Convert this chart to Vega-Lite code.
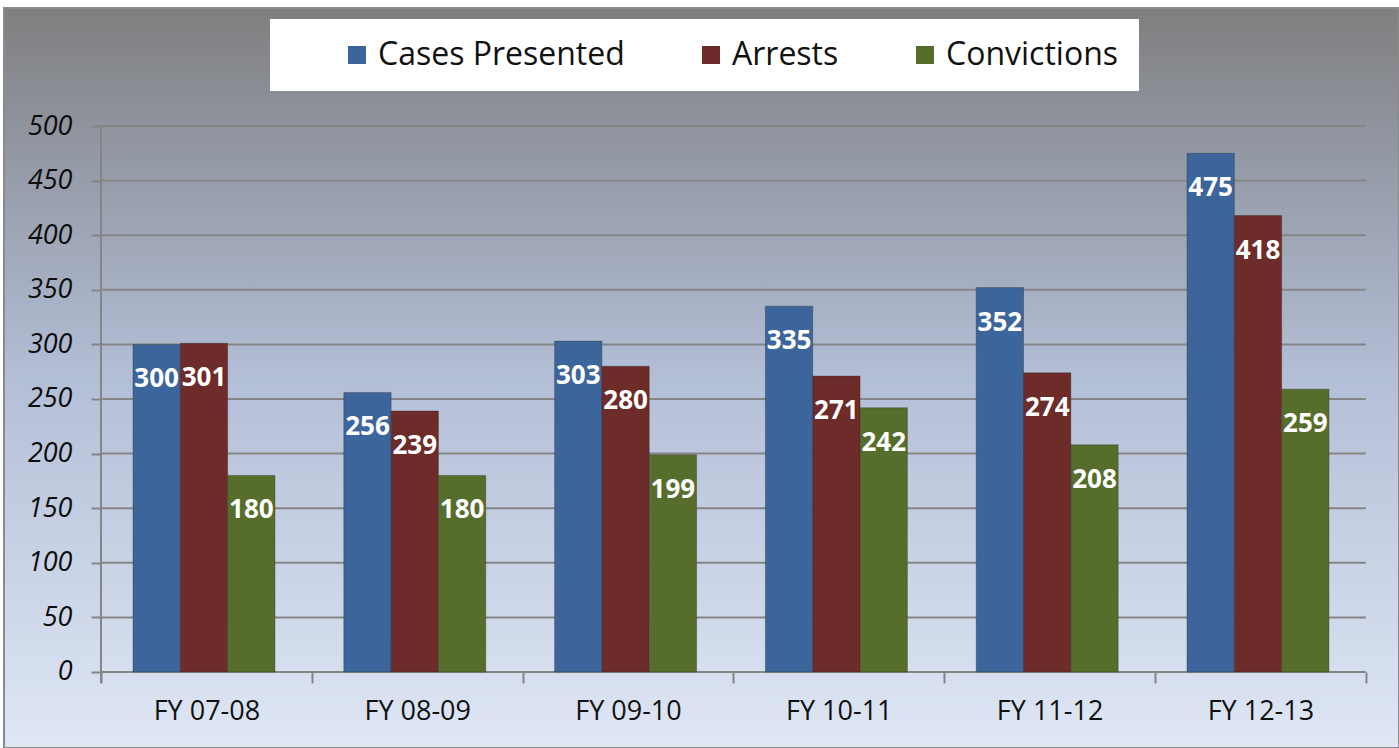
{
  "$schema": "https://vega.github.io/schema/vega-lite/v6.json",
  "width": 1395,
  "height": 740,
  "autosize": {"type": "none"},
  "padding": {"left": 4, "top": 8, "right": 0, "bottom": 0},
  "background": "#ffffff",
  "config": {
    "view": {
      "stroke": "#8a8a8a",
      "strokeWidth": 2,
      "fill": {
        "gradient": "linear",
        "x1": 0, "y1": 0, "x2": 0, "y2": 1,
        "stops": [
          {"offset": 0, "color": "#7f7f7f"},
          {"offset": 0.18, "color": "#9196a1"},
          {"offset": 0.5, "color": "#b3bfd7"},
          {"offset": 1, "color": "#dfe7f5"}
        ]
      }
    }
  },
  "datasets": {
    "bars": [
      {"year": "FY 07-08", "series": "Cases Presented", "value": 300},
      {"year": "FY 07-08", "series": "Arrests", "value": 301},
      {"year": "FY 07-08", "series": "Convictions", "value": 180},
      {"year": "FY 08-09", "series": "Cases Presented", "value": 256},
      {"year": "FY 08-09", "series": "Arrests", "value": 239},
      {"year": "FY 08-09", "series": "Convictions", "value": 180},
      {"year": "FY 09-10", "series": "Cases Presented", "value": 303},
      {"year": "FY 09-10", "series": "Arrests", "value": 280},
      {"year": "FY 09-10", "series": "Convictions", "value": 199},
      {"year": "FY 10-11", "series": "Cases Presented", "value": 335},
      {"year": "FY 10-11", "series": "Arrests", "value": 271},
      {"year": "FY 10-11", "series": "Convictions", "value": 242},
      {"year": "FY 11-12", "series": "Cases Presented", "value": 352},
      {"year": "FY 11-12", "series": "Arrests", "value": 274},
      {"year": "FY 11-12", "series": "Convictions", "value": 208},
      {"year": "FY 12-13", "series": "Cases Presented", "value": 475},
      {"year": "FY 12-13", "series": "Arrests", "value": 418},
      {"year": "FY 12-13", "series": "Convictions", "value": 259}
    ],
    "grid": [
      {"v": 0}, {"v": 50}, {"v": 100}, {"v": 150}, {"v": 200}, {"v": 250},
      {"v": 300}, {"v": 350}, {"v": 400}, {"v": 450}, {"v": 500}
    ]
  },
  "layer": [
    {
      "data": {"name": "grid"},
      "mark": {"type": "rule", "strokeWidth": 2, "color": "#858585"},
      "encoding": {
        "x": {
          "datum": "FY 07-08",
          "bandPosition": 0,
          "type": "nominal",
          "scale": {
            "domain": ["FY 07-08", "FY 08-09", "FY 09-10", "FY 10-11", "FY 11-12", "FY 12-13"],
            "paddingInner": 0,
            "paddingOuter": 0.3088,
            "align": 0.745
          },
          "axis": {
            "title": null,
            "orient": "bottom",
            "offset": -76,
            "domain": false,
            "grid": false,
            "tickBand": "extent",
            "tickSize": 11,
            "tickWidth": 2,
            "tickColor": "#858585",
            "labelFont": "Open Sans",
            "labelFontSize": 27,
            "labelColor": "#111111",
            "labelPadding": 15,
            "labelAngle": 0
          }
        },
        "x2": {"datum": "FY 12-13", "bandPosition": 1},
        "y": {
          "field": "v",
          "type": "quantitative",
          "scale": {"domain": [-69.6, 608.06], "nice": false, "zero": false},
          "axis": {
            "title": null,
            "orient": "left",
            "offset": -97,
            "domain": false,
            "grid": false,
            "values": [0, 50, 100, 150, 200, 250, 300, 350, 400, 450, 500],
            "tickSize": 10,
            "tickWidth": 2,
            "tickColor": "#858585",
            "labelFont": "Open Sans",
            "labelFontStyle": "italic",
            "labelFontSize": 27,
            "labelColor": "#0d0d0d",
            "labelPadding": 19
          }
        }
      }
    },
    {
      "data": {"values": [{}]},
      "mark": {"type": "rule", "color": "#858585", "strokeWidth": 2},
      "encoding": {
        "x": {"datum": "FY 07-08", "bandPosition": 0, "type": "nominal"},
        "y": {"datum": 500, "type": "quantitative"},
        "y2": {"datum": -10}
      }
    },
    {
      "data": {"name": "bars"},
      "mark": {"type": "bar", "stroke": "#2a2a2a", "strokeOpacity": 0.35, "strokeWidth": 1},
      "encoding": {
        "x": {"field": "year", "type": "nominal", "sort": null},
        "xOffset": {
          "field": "series",
          "type": "nominal",
          "sort": ["Cases Presented", "Arrests", "Convictions"],
          "scale": {"paddingInner": 0, "paddingOuter": 0.727, "align": 0.465}
        },
        "y": {"field": "value", "type": "quantitative"},
        "color": {
          "field": "series",
          "type": "nominal",
          "sort": ["Cases Presented", "Arrests", "Convictions"],
          "scale": {
            "domain": ["Cases Presented", "Arrests", "Convictions"],
            "range": ["#3c669b", "#6d2b29", "#566d2b"]
          },
          "legend": {
            "title": null,
            "orient": "none",
            "legendX": 266,
            "legendY": 11,
            "direction": "horizontal",
            "fillColor": "#ffffff",
            "padding": 20,
            "symbolOffset": 51,
            "symbolType": "square",
            "symbolSize": 324,
            "symbolStrokeWidth": 0,
            "symbolOpacity": 1,
            "labelFont": "Open Sans",
            "labelFontSize": 32,
            "labelColor": "#111111",
            "labelOffset": 5,
            "columnPadding": 19,
            "labelLimit": 500
          }
        }
      }
    },
    {
      "data": {"name": "bars"},
      "mark": {"type": "text", "color": "#ffffff", "font": "Open Sans", "fontWeight": "bold", "fontSize": 26, "baseline": "middle", "align": "center", "dy": 35},
      "encoding": {
        "x": {"field": "year", "type": "nominal", "sort": null},
        "xOffset": {"field": "series", "type": "nominal", "sort": ["Cases Presented", "Arrests", "Convictions"]},
        "y": {"field": "value", "type": "quantitative"},
        "text": {"field": "value", "type": "quantitative"}
      }
    }
  ]
}
